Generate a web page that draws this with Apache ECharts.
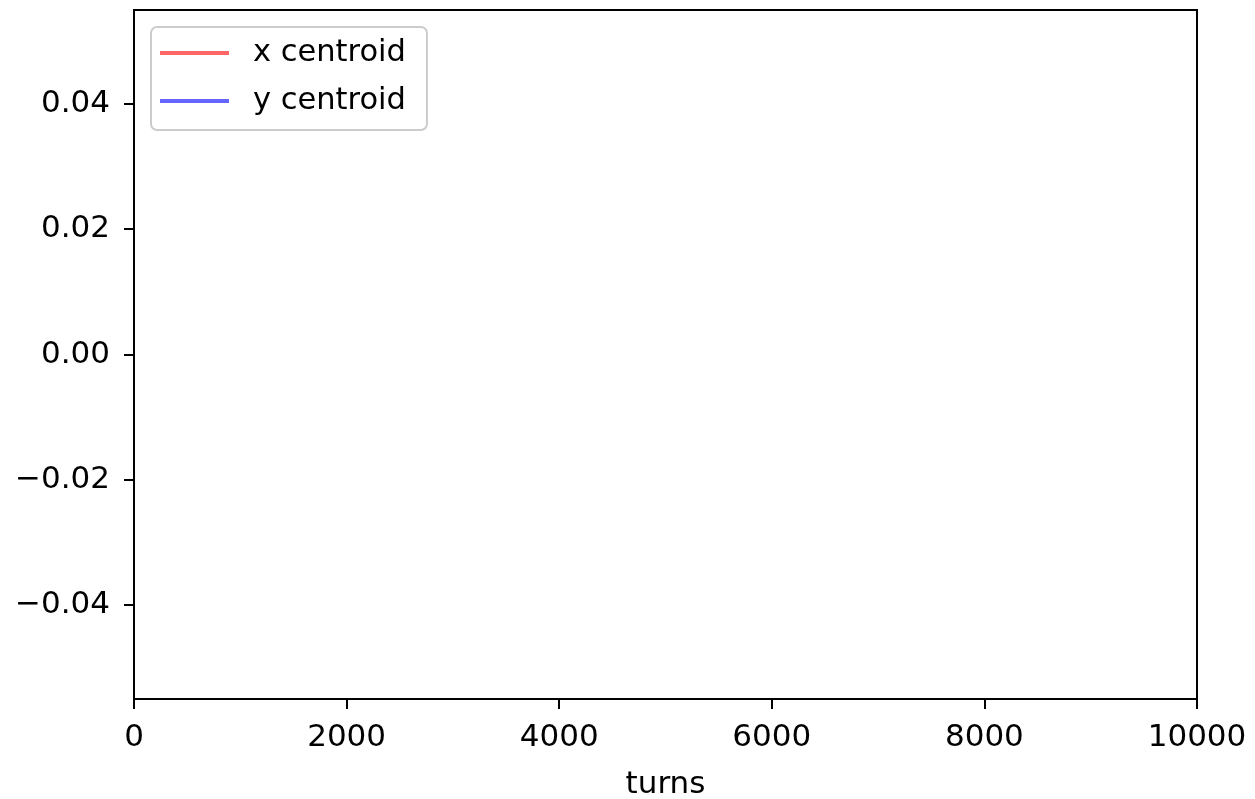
<!DOCTYPE html>
<html><head><meta charset="utf-8">
<script src="https://cdn.jsdelivr.net/npm/echarts@6/dist/echarts.min.js"></script>
<style>html,body{margin:0;padding:0;background:#fff}#c{width:1255px;height:799px}</style>
</head><body><div id="c"></div>
<script>
// Data (the reference plot is empty: no points were drawn)
const turns = [];
const xCentroid = [];
const yCentroid = [];
const seriesNames = ['x centroid', 'y centroid'];
const yTicks = [-0.04, -0.02, 0.00, 0.02, 0.04];
const xTicks = [0, 2000, 4000, 6000, 8000, 10000];
const xLabel = 'turns';

const font = 'DejaVu Sans';
const chart = echarts.init(document.getElementById('c'), null, {renderer: 'canvas'});
const fmtY = v => (Math.abs(v) < 1e-12 ? '0.00' : v.toFixed(2)).replace('-', '\u2212');
chart.setOption({
  animation: false,
  backgroundColor: '#ffffff',
  grid: {left: 134, right: 58, top: 10, bottom: 100, outerBoundsMode: 'none', containLabel: false, show: true, borderColor: '#000', borderWidth: 2, backgroundColor: 'transparent'},
  legend: {
    orient: 'vertical', left: 151, top: 27,
    data: seriesNames,
    icon: 'rect', itemWidth: 69, itemHeight: 4, itemGap: 14,
    padding: [9, 21, 12, 9],
    backgroundColor: '#fff', borderColor: '#cccccc', borderWidth: 2, borderRadius: 6,
    textStyle: {fontFamily: font, fontSize: 30.5, color: '#000', lineHeight: 34, padding: [0, 0, 0, 19]}
  },
  xAxis: {
    type: 'value', min: xTicks[0], max: xTicks[xTicks.length - 1], interval: xTicks[1] - xTicks[0],
    name: xLabel, nameLocation: 'middle', nameGap: 70,
    nameTextStyle: {fontFamily: font, fontSize: 31, color: '#000'},
    axisLine: {show: true, onZero: false, lineStyle: {color: '#000', width: 2}},
    axisTick: {show: true, length: 10, lineStyle: {color: '#000', width: 2}},
    axisLabel: {fontFamily: font, fontSize: 31, color: '#000', margin: 23, formatter: v => String(v)},
    splitLine: {show: false}
  },
  yAxis: {
    type: 'value', min: -0.055, max: 0.055,
    axisLine: {show: true, onZero: false, lineStyle: {color: '#000', width: 2}},
    axisTick: {show: true, length: 10, lineStyle: {color: '#000', width: 2}, customValues: yTicks},
    axisLabel: {fontFamily: font, fontSize: 31, color: '#000', margin: 24, customValues: yTicks, formatter: fmtY},
    splitLine: {show: false}
  },
  series: [
    {name: seriesNames[0], type: 'line', showSymbol: false, data: turns.map((t, i) => [t, xCentroid[i]]), itemStyle: {color: '#ff6666'}, lineStyle: {color: '#ff6666', width: 2}},
    {name: seriesNames[1], type: 'line', showSymbol: false, data: turns.map((t, i) => [t, yCentroid[i]]), itemStyle: {color: '#6666ff'}, lineStyle: {color: '#6666ff', width: 2}}
  ]
});
</script></body></html>
